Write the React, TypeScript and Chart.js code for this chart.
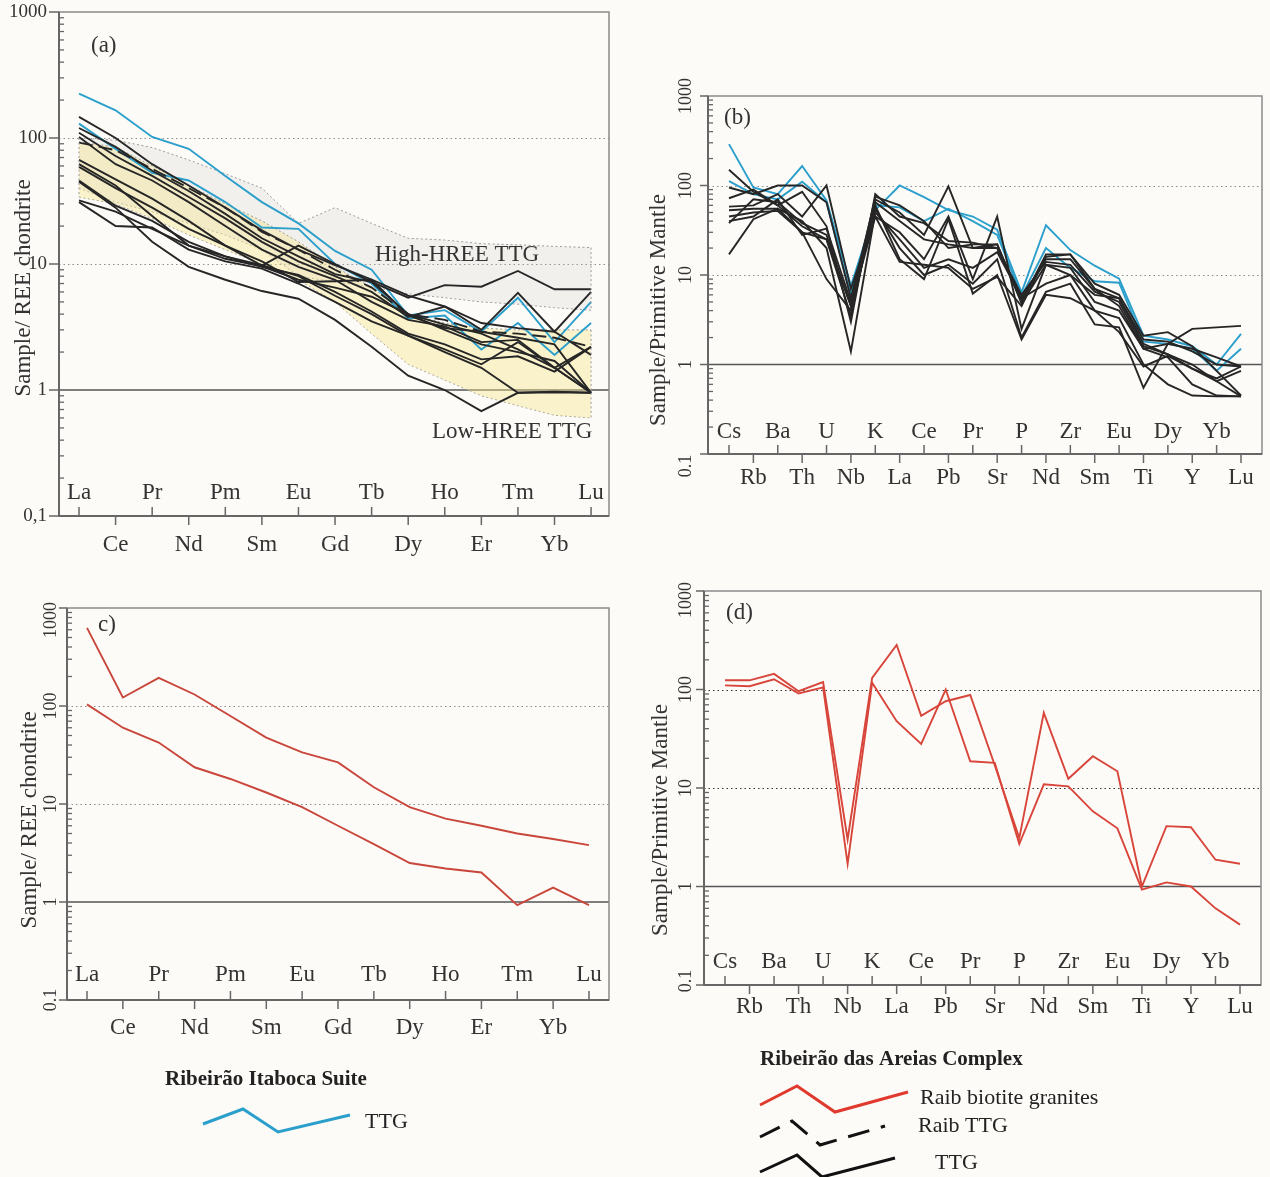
import React, { useEffect, useRef } from "react";
import { Chart, registerables } from "chart.js";
Chart.register(...registerables);

const FONT = '"Liberation Serif", "Times New Roman", serif';

// ---------- categories ----------
const REE = ["La", "Ce", "Pr", "Nd", "Pm", "Sm", "Eu", "Gd", "Tb", "Dy", "Ho", "Er", "Tm", "Yb", "Lu"];
const TE = ["Cs", "Rb", "Ba", "Th", "U", "Nb", "K", "La", "Ce", "Pb", "Pr", "Sr", "P", "Nd", "Zr", "Sm", "Eu", "Ti", "Dy", "Y", "Yb", "Lu"];
const Y_VALUES = [0.1, 1, 10, 100, 1000];
const Y_LABELS_A = ["0,1", "1", "10", "100", "1000"];
const Y_LABELS = ["0.1", "1", "10", "100", "1000"];

// ---------- panel (a) ----------
const aHighUpper = [100, 96, 84, 67, 52, 40, 21, 28, 21, 16, 15.5, 14.5, 14.2, 13.8, 13.5];
const aHighLower = [40, 31, 26, 21, 17, 13, 8, 7.2, 6.6, 5.8, 5.4, 5.0, 4.8, 4.5, 4.3];
const aLowUpper = [93, 85, 60, 42, 30, 22, 15, 9.5, 6.5, 4.0, 3.4, 3.1, 3.0, 3.0, 3.0];
const aLowLower = [34, 30, 23, 17, 13, 10, 7.5, 5, 2.8, 1.6, 1.2, 0.9, 0.75, 0.63, 0.6];
const aBlue1 = [225, 166, 102, 82, 50, 31, 21, 12.7, 9.0, 3.9, 4.3, 2.9, 5.4, 2.4, 5.0];
const aBlue2 = [130, 82, 53, 46, 31, 19.5, 19, 10, 7.0, 3.7, 3.9, 2.1, 3.4, 1.9, 3.4];
const aDashed = [92, 80, 57, 40, 28, 18, 13, 9, 6.5, 4.0, 3.6, 2.9, 2.8, 2.6, 2.2];
const aK1 = [147, 100, 62, 42, 28, 18.5, 13, 9.8, 7.5, 5.6, 4.6, 3.4, 3.1, 2.9, 1.9];
const aK2 = [120, 85, 55, 38, 25, 16, 11.5, 8.3, 7.2, 5.4, 6.8, 6.6, 8.8, 6.3, 6.3];
const aK3 = [110, 72, 50, 34, 23, 15, 10.5, 8.0, 6.0, 3.8, 4.6, 3.0, 5.9, 2.9, 6.0];
const aK4 = [102, 62, 46, 31, 20, 13, 9.5, 7.5, 5.0, 3.6, 3.2, 2.4, 2.5, 1.5, 2.2];
const aK5 = [67, 47, 33, 22, 14, 9.7, 14, 10, 7.2, 4.0, 3.0, 2.3, 2.0, 1.7, 0.95];
const aK6 = [59, 40, 28, 19, 14, 10.5, 7.2, 7.3, 7.5, 3.9, 3.1, 2.9, 2.6, 2.3, 0.95];
const aK7 = [46, 29, 22, 15, 11.5, 9.5, 8.2, 6.0, 4.2, 2.8, 2.3, 1.75, 1.85, 1.4, 2.2];
const aK8 = [32, 26, 19, 14, 11.5, 9.8, 8.0, 5.6, 4.0, 2.7, 2.1, 1.6, 2.4, 1.5, 0.95];
const aK9 = [31, 20, 19.5, 13, 10.5, 9.2, 7.0, 5.0, 3.5, 2.7, 2.0, 1.5, 0.95, 0.97, 0.95];
const aK10 = [45, 28, 15, 9.5, 7.5, 6.1, 5.3, 3.6, 2.2, 1.3, 1.0, 0.68, 0.95, 0.96, 0.95];
const aK11 = [62, 42, 24, 14, 11, 9.6, 7.5, 6.5, 5.5, 4.0, 3.3, 2.8, 2.1, 1.5, 0.95];

// ---------- panel (b) ----------
const bBlue1 = [290, 95, 80, 165, 68, 7.6, 53, 100, 74, 53, 45, 32, 6.4, 36, 19, 12.7, 9.1, 2.1, 1.9, 1.6, 1.0, 2.2];
const bBlue2 = [112, 80, 70, 110, 65, 6.0, 60, 57, 40, 55, 40, 28, 5.8, 20, 12, 8.5, 8.2, 1.8, 1.7, 1.5, 0.85, 1.5];
const bK1 = [150, 85, 60, 35, 25, 4.5, 75, 60, 40, 20, 22, 22, 5.0, 17, 17, 8.0, 6.0, 2.1, 2.3, 1.6, 0.85, 0.45];
const bK2 = [95, 80, 100, 100, 65, 5.5, 70, 50, 28, 98, 20, 20, 5.5, 15, 15, 7.0, 5.5, 1.9, 1.8, 1.4, 1.0, 0.95];
const bK3 = [72, 90, 60, 85, 35, 3.0, 80, 45, 38, 24, 23, 20, 6.0, 14, 13, 6.5, 5.0, 1.6, 1.3, 1.0, 0.65, 0.44];
const bK4 = [58, 60, 80, 45, 100, 7.0, 45, 30, 15, 45, 9, 45, 2.5, 13, 12, 5.0, 4.0, 1.5, 1.7, 2.5, 2.6, 2.7];
const bK5 = [53, 55, 55, 40, 20, 1.4, 50, 25, 12, 15, 12, 18, 5.5, 8, 10, 4.0, 3.3, 1.0, 0.6, 0.45, 0.44, 0.44];
const bK6 = [45, 50, 52, 30, 9, 4.0, 55, 20, 10, 13, 8, 15, 2.0, 6.5, 8, 2.8, 2.6, 0.55, 1.7, 1.5, 1.2, 0.95];
const bK7 = [40, 45, 70, 28, 33, 5.0, 60, 15, 9, 42, 6.2, 10, 1.9, 6, 5.5, 4.0, 2.3, 0.95, 1.25, 0.9, 0.65, 0.85];
const bK8 = [38, 70, 65, 38, 28, 4.5, 45, 14, 13, 12, 7, 9.5, 4.5, 16, 17, 7.0, 4.5, 1.5, 1.2, 0.6, 0.45, 0.44];
const bK9 = [17, 42, 55, 30, 25, 3.5, 65, 40, 25, 22, 20, 22, 4.8, 13, 10, 6, 5.5, 1.7, 1.3, 0.9, 0.7, 0.95];

// ---------- panel (c) ----------
const cRed1 = [626, 122, 194, 131, 79, 47.6, 33.7, 26.6, 14.8, 9.3, 7.1, 6.0, 5.0, 4.4, 3.8];
const cRed2 = [104, 60, 42.4, 23.7, 18, 13.1, 9.3, 6.0, 3.9, 2.5, 2.2, 2.0, 0.93, 1.4, 0.93];

// ---------- panel (d) ----------
const dRed1 = [124, 124, 144, 96, 119, 3.0, 131, 283, 54, 76, 88, 17, 3.1, 58, 12.4, 21, 14.8, 1.0, 4.1, 4.0, 1.87, 1.7];
const dRed2 = [110, 108, 127, 91, 105, 1.7, 117, 47.7, 28, 100, 18.7, 18, 2.7, 10.9, 10.4, 5.8, 3.9, 0.93, 1.1, 1.0, 0.6, 0.41];

const BLUE = "#2b9fcb";
const BLACK = "#262626";
const RED_C = "#c9463b";
const RED_D = "#d8453a";

const pts = (vals: number[]) => vals.map((v, i) => ({ x: i, y: v }));
const line = (vals: number[], color: string, extra: any = {}) => ({
  data: pts(vals),
  borderColor: color,
  borderWidth: 1.9,
  pointRadius: 0,
  fill: false,
  order: 0,
  ...extra,
});

type PanelCfg = {
  cats: string[];
  yLabels: string[];
  yLabelFont: number;
  rotateY: boolean;
  yLabelOff: number;
  yShift?: number[];
  majorTick: number;
  title: string;
  titleX: number;
  titleY: number;
  tag: string;
  tagX: number;
  tagY: number;
  gridColor: string;
  labelUp: number;
  labelDown: number;
  extra?: (ctx: CanvasRenderingContext2D, chart: any) => void;
};

function seg(ctx: CanvasRenderingContext2D, x1: number, y1: number, x2: number, y2: number) {
  ctx.beginPath();
  ctx.moveTo(x1, y1);
  ctx.lineTo(x2, y2);
  ctx.stroke();
}

function axesPlugin(cfg: PanelCfg) {
  return {
    id: "axesPlugin",
    beforeDatasetsDraw(chart: any) {
      const { ctx, chartArea: a, scales } = chart;
      const y = scales.y;
      ctx.save();
      ctx.strokeStyle = cfg.gridColor;
      ctx.lineWidth = 1.2;
      ctx.setLineDash([1.5, 3]);
      for (const v of [100, 10]) {
        const py = Math.round(y.getPixelForValue(v)) + 0.5;
        seg(ctx, a.left, py, a.right, py);
      }
      ctx.setLineDash([]);
      ctx.strokeStyle = "#555";
      ctx.lineWidth = 1.6;
      const p1 = y.getPixelForValue(1);
      seg(ctx, a.left, p1, a.right, p1);
      ctx.restore();
    },
    afterDatasetsDraw(chart: any) {
      const { ctx, chartArea: a, scales } = chart;
      const x = scales.x;
      const y = scales.y;
      ctx.save();
      ctx.strokeStyle = "#8a8a8a";
      ctx.lineWidth = 1.5;
      ctx.strokeRect(a.left, a.top, a.right - a.left, a.bottom - a.top);
      ctx.strokeStyle = "#666";
      ctx.lineWidth = 2;
      seg(ctx, a.left, a.top, a.left, a.bottom);
      seg(ctx, a.left, a.bottom, a.right, a.bottom);
      ctx.lineWidth = 1.3;
      for (const d of [0.1, 1, 10, 100]) {
        for (let m = 2; m <= 9; m++) {
          const py = y.getPixelForValue(d * m);
          seg(ctx, a.left, py, a.left + 5, py);
        }
      }
      ctx.fillStyle = "#333";
      ctx.font = `${cfg.yLabelFont}px ${FONT}`;
      Y_VALUES.forEach((v, i) => {
        const py = y.getPixelForValue(v);
        ctx.lineWidth = 1.5;
        seg(ctx, a.left - cfg.majorTick, py, a.left, py);
        const sh = cfg.yShift ? cfg.yShift[i] : 0;
        if (cfg.rotateY) {
          ctx.save();
          ctx.translate(a.left - cfg.yLabelOff, py + sh);
          ctx.rotate(-Math.PI / 2);
          ctx.textAlign = "center";
          ctx.textBaseline = "middle";
          ctx.fillText(cfg.yLabels[i], 0, 0);
          ctx.restore();
        } else {
          ctx.textAlign = "right";
          ctx.textBaseline = "middle";
          ctx.fillText(cfg.yLabels[i], a.left - cfg.majorTick - 2, py + sh);
        }
      });
      ctx.font = `23px ${FONT}`;
      ctx.textAlign = "center";
      ctx.textBaseline = "middle";
      ctx.lineWidth = 1.5;
      cfg.cats.forEach((c, i) => {
        const px = x.getPixelForValue(i);
        if (i % 2 === 0) {
          seg(ctx, px, a.bottom, px, a.bottom - 9);
          ctx.fillText(c, px, a.bottom - cfg.labelUp);
        } else {
          seg(ctx, px, a.bottom, px, a.bottom + 9);
          ctx.fillText(c, px, a.bottom + cfg.labelDown);
        }
      });
      ctx.save();
      ctx.translate(cfg.titleX, cfg.titleY);
      ctx.rotate(-Math.PI / 2);
      ctx.font = `23px ${FONT}`;
      ctx.fillStyle = "#333";
      ctx.textAlign = "center";
      ctx.textBaseline = "middle";
      ctx.fillText(cfg.title, 0, 0);
      ctx.restore();
      ctx.font = `23px ${FONT}`;
      ctx.textAlign = "left";
      ctx.textBaseline = "middle";
      ctx.fillStyle = "#333";
      ctx.fillText(cfg.tag, cfg.tagX, cfg.tagY);
      if (cfg.extra) cfg.extra(ctx, chart);
      ctx.restore();
    },
  };
}

function zig(ctx: CanvasRenderingContext2D, p: number[][], color: string, dash: number[] = []) {
  ctx.save();
  ctx.strokeStyle = color;
  ctx.lineWidth = 3;
  ctx.setLineDash(dash);
  ctx.lineJoin = "miter";
  ctx.beginPath();
  ctx.moveTo(p[0][0], p[0][1]);
  for (let i = 1; i < p.length; i++) ctx.lineTo(p[i][0], p[i][1]);
  ctx.stroke();
  ctx.restore();
}

function makeChart(
  canvas: HTMLCanvasElement,
  datasets: any[],
  xmin: number,
  xmax: number,
  padding: any,
  cfg: PanelCfg
) {
  return new Chart(canvas, {
    type: "line",
    data: { datasets },
    options: {
      responsive: false,
      animation: false,
      layout: { padding },
      plugins: { legend: { display: false }, tooltip: { enabled: false } },
      scales: {
        x: { type: "linear", min: xmin, max: xmax, display: false },
        y: { type: "logarithmic", min: 0.1, max: 1000, display: false },
      },
      elements: { point: { radius: 0 }, line: { tension: 0 } },
    } as any,
    plugins: [axesPlugin(cfg) as any],
  });
}

export default function App() {
  const refA = useRef<HTMLCanvasElement>(null);
  const refB = useRef<HTMLCanvasElement>(null);
  const refC = useRef<HTMLCanvasElement>(null);
  const refD = useRef<HTMLCanvasElement>(null);

  useEffect(() => {
    const fieldBorder = { borderColor: "#9a9a9a", borderWidth: 1, borderDash: [2, 2.5], pointRadius: 0 };
    const chartA = makeChart(
      refA.current!,
      [
        { data: pts(aHighUpper), fill: "+1", backgroundColor: "rgba(200,200,200,0.22)", order: 20, ...fieldBorder },
        { data: pts(aHighLower), fill: false, order: 20, ...fieldBorder },
        { data: pts(aLowUpper), fill: "+1", backgroundColor: "rgba(246,228,140,0.42)", order: 10, ...fieldBorder },
        { data: pts(aLowLower), fill: false, order: 10, ...fieldBorder },
        line(aK1, BLACK),
        line(aK2, BLACK),
        line(aK3, BLACK),
        line(aK4, BLACK),
        line(aK5, BLACK),
        line(aK6, BLACK),
        line(aK7, BLACK),
        line(aK8, BLACK),
        line(aK9, BLACK),
        line(aK10, BLACK),
        line(aK11, BLACK),
        line(aDashed, BLACK, { borderDash: [14, 6] }),
        line(aBlue1, BLUE),
        line(aBlue2, BLUE),
      ],
      -0.547,
      14.49,
      { left: 59, top: 12, right: 31, bottom: 64 },
      {
        cats: REE,
        yLabels: Y_LABELS_A,
        yLabelFont: 19,
        rotateY: false,
        majorTick: 10,
        title: "Sample/ REE chondrite",
        titleX: 24,
        titleY: 288,
        tag: "(a)",
        tagX: 91,
        tagY: 46,
        gridColor: "#8c8c8c",
        labelUp: 23,
        labelDown: 29,
        extra: (ctx, chart) => {
          const x = chart.scales.x;
          const y = chart.scales.y;
          // dotted end edges of the two reference fields
          ctx.save();
          ctx.strokeStyle = "#9a9a9a";
          ctx.lineWidth = 1;
          ctx.setLineDash([2, 2.5]);
          const last = REE.length - 1;
          seg(ctx, x.getPixelForValue(0), y.getPixelForValue(aHighUpper[0]), x.getPixelForValue(0), y.getPixelForValue(aLowLower[0]));
          seg(ctx, x.getPixelForValue(last), y.getPixelForValue(aHighUpper[last]), x.getPixelForValue(last), y.getPixelForValue(aHighLower[last]));
          seg(ctx, x.getPixelForValue(last), y.getPixelForValue(aLowUpper[last]), x.getPixelForValue(last), y.getPixelForValue(aLowLower[last]));
          ctx.restore();
          ctx.font = `23px ${FONT}`;
          ctx.fillStyle = "#333";
          ctx.textAlign = "left";
          ctx.textBaseline = "middle";
          ctx.fillText("High-HREE TTG", 375, 255);
          ctx.fillText("Low-HREE TTG", 432, 432);
        },
      }
    );

    const chartB = makeChart(
      refB.current!,
      [
        line(bK1, BLACK),
        line(bK2, BLACK),
        line(bK3, BLACK),
        line(bK4, BLACK),
        line(bK5, BLACK),
        line(bK6, BLACK),
        line(bK7, BLACK),
        line(bK8, BLACK),
        line(bK9, BLACK),
        line(bBlue1, BLUE),
        line(bBlue2, BLUE),
      ],
      -0.861,
      21.861,
      { left: 68, top: 46, right: 8, bottom: 86 },
      {
        cats: TE,
        yLabels: Y_LABELS,
        yLabelFont: 18,
        rotateY: true,
        yLabelOff: 22,
        yShift: [12, 0, 0, 0, 0],
        majorTick: 8,
        title: "Sample/Primitive Mantle",
        titleX: 19,
        titleY: 260,
        tag: "(b)",
        tagX: 84,
        tagY: 68,
        gridColor: "#8c8c8c",
        labelUp: 22,
        labelDown: 24,
      }
    );

    const chartC = makeChart(
      refC.current!,
      [line(cRed1, RED_C), line(cRed2, RED_C)],
      -0.558,
      14.558,
      { left: 67, top: 28, right: 31, bottom: 177 },
      {
        cats: REE,
        yLabels: Y_LABELS,
        yLabelFont: 18,
        rotateY: true,
        yLabelOff: 16,
        yShift: [0, 0, 0, 0, 12],
        majorTick: 8,
        title: "Sample/ REE chondrite",
        titleX: 30,
        titleY: 240,
        tag: "c)",
        tagX: 98,
        tagY: 45,
        gridColor: "#8c8c8c",
        labelUp: 25,
        labelDown: 28,
        extra: (ctx) => {
          ctx.font = `bold 21px ${FONT}`;
          ctx.fillStyle = "#222";
          ctx.textAlign = "center";
          ctx.textBaseline = "middle";
          ctx.fillText("Ribeirão Itaboca Suite", 266, 500);
          zig(ctx, [[203, 544], [243, 529], [278, 552], [350, 535]], BLUE);
          ctx.font = `22px ${FONT}`;
          ctx.textAlign = "left";
          ctx.fillStyle = "#222";
          ctx.fillText("TTG", 365, 542);
        },
      }
    );

    const chartD = makeChart(
      refD.current!,
      [line(dRed1, RED_D), line(dRed2, RED_D)],
      -0.856,
      21.856,
      { left: 64, top: 11, right: 9, bottom: 192 },
      {
        cats: TE,
        yLabels: Y_LABELS,
        yLabelFont: 18,
        rotateY: true,
        yLabelOff: 18,
        yShift: [-4, 0, 0, 0, 9],
        majorTick: 8,
        title: "Sample/Primitive Mantle",
        titleX: 21,
        titleY: 240,
        tag: "(d)",
        tagX: 86,
        tagY: 33,
        gridColor: "#333",
        labelUp: 23,
        labelDown: 22,
        extra: (ctx) => {
          ctx.font = `bold 21px ${FONT}`;
          ctx.fillStyle = "#222";
          ctx.textAlign = "left";
          ctx.textBaseline = "middle";
          ctx.fillText("Ribeirão das Areias Complex", 120, 480);
          zig(ctx, [[120, 525], [157, 506], [195, 532], [268, 512]], "#e03a2e");
          zig(ctx, [[120, 557], [152, 541], [180, 565], [245, 546]], "#111", [22, 12]);
          zig(ctx, [[120, 592], [157, 575], [182, 597], [255, 578]], "#111");
          ctx.font = `22px ${FONT}`;
          ctx.fillStyle = "#222";
          ctx.fillText("Raib biotite granites", 280, 518);
          ctx.fillText("Raib TTG", 278, 546);
          ctx.fillText("TTG", 295, 583);
        },
      }
    );

    return () => {
      chartA.destroy();
      chartB.destroy();
      chartC.destroy();
      chartD.destroy();
    };
  }, []);

  const abs = (left: number, top: number): React.CSSProperties => ({ position: "absolute", left, top });
  return (
    <div style={{ position: "absolute", left: 0, top: 0, width: 1270, height: 1177, background: "#fdfbf8", overflow: "hidden" }}>
      <canvas ref={refA} width={640} height={580} style={abs(0, 0)} />
      <canvas ref={refB} width={630} height={490} style={abs(640, 50)} />
      <canvas ref={refC} width={640} height={597} style={abs(0, 580)} />
      <canvas ref={refD} width={630} height={597} style={abs(640, 580)} />
    </div>
  );
}
